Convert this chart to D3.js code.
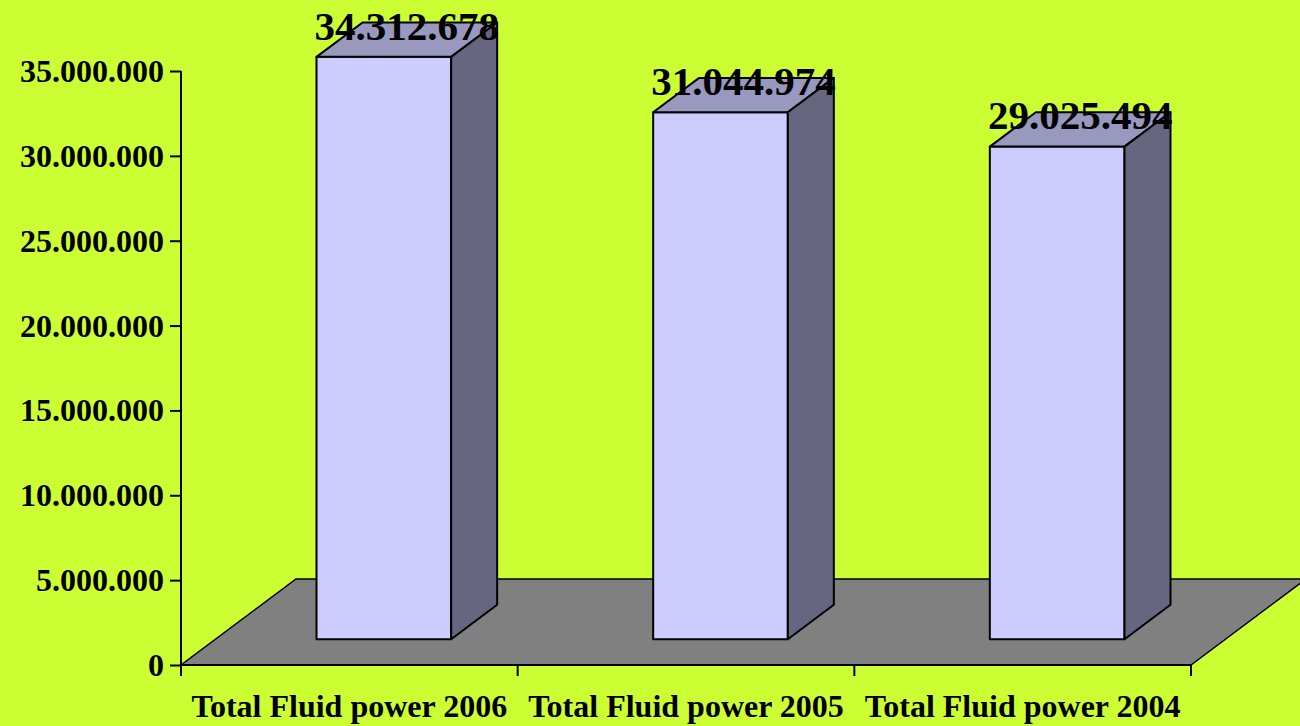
<!DOCTYPE html>
<html>
<head>
<meta charset="utf-8">
<script src="https://cdn.jsdelivr.net/npm/d3@7"></script>
<style>
  html, body { margin: 0; padding: 0; background: #CCFF33; }
  svg { display: block; }
  text { font-family: "Liberation Serif", "Times New Roman", serif; font-weight: bold; fill: #000; }
</style>
</head>
<body>
<div id="chart"></div>
<script>
// chart data
const categories = ["Total Fluid power 2006", "Total Fluid power 2005", "Total Fluid power 2004"];
const values = [34312678, 31044974, 29025494];
const yTicks = [0, 5000000, 10000000, 15000000, 20000000, 25000000, 30000000, 35000000];

const width = 1300, height = 726;

const svg = d3.select("#chart").append("svg")
    .attr("width", width)
    .attr("height", height);

// front plane scales
const x = d3.scaleBand().domain(categories).range([181, 1191]);
const y = d3.scaleLinear().domain([0, 35000000]).range([665, 71]);

// depth of the floor (3d offset)
const depthX = 115, depthY = -86;
const barFront = 0.3, barBack = 0.7;

const fmt = d3.formatLocale({ decimal: ",", thousands: ".", grouping: [3], currency: ["", ""] }).format(",");

// floor
const x0 = x.range()[0], x1 = x.range()[1], y0 = y(0);
svg.append("polygon")
    .attr("points", [
        [x0, y0], [x1, y0], [x1 + depthX, y0 + depthY], [x0 + depthX, y0 + depthY]
    ].map(p => p.join(",")).join(" "))
    .attr("fill", "#808080")
    .attr("stroke", "#000")
    .attr("stroke-width", 1.5);

// bars
const bw = x.bandwidth() * 0.4;
const bars = svg.selectAll(".bar")
    .data(categories.map((c, i) => ({ name: c, value: values[i] })))
    .enter().append("g")
    .attr("class", "bar");

function pts(arr) { return arr.map(p => p.join(",")).join(" "); }

bars.each(function(d) {
    const g = d3.select(this);
    const fx = x(d.name) + (x.bandwidth() - bw) / 2 + depthX * barFront;
    const fyBase = y(0) + depthY * barFront;
    const fyTop = y(d.value) + depthY * barFront;
    const ox = depthX * (barBack - barFront), oy = depthY * (barBack - barFront);

    // front
    g.append("polygon")
        .attr("points", pts([[fx, fyTop], [fx + bw, fyTop], [fx + bw, fyBase], [fx, fyBase]]))
        .attr("fill", "#CCCCFF").attr("stroke", "#000").attr("stroke-width", 2)
        .attr("stroke-linejoin", "round");
    // top
    g.append("polygon")
        .attr("points", pts([[fx, fyTop], [fx + ox, fyTop + oy], [fx + bw + ox, fyTop + oy], [fx + bw, fyTop]]))
        .attr("fill", "#9999BF").attr("stroke", "#000").attr("stroke-width", 2)
        .attr("stroke-linejoin", "round");
    // side
    g.append("polygon")
        .attr("points", pts([[fx + bw, fyTop], [fx + bw + ox, fyTop + oy], [fx + bw + ox, fyBase + oy], [fx + bw, fyBase]]))
        .attr("fill", "#666680").attr("stroke", "#000").attr("stroke-width", 2)
        .attr("stroke-linejoin", "round");

    // value label
    g.append("text")
        .attr("x", fx + bw / 2 + ox / 2)
        .attr("y", fyTop + oy / 2)
        .attr("text-anchor", "middle")
        .style("font-size", "41px")
        .text(fmt(d.value));
});

// y axis
const yAxis = d3.axisLeft(y)
    .tickValues(yTicks)
    .tickSize(11)
    .tickPadding(6)
    .tickFormat(fmt);

const gy = svg.append("g")
    .attr("transform", `translate(${x0},0)`)
    .call(yAxis);
gy.select(".domain").attr("stroke", "#000").attr("stroke-width", 2).attr("d", `M0,${y(35000000)}V${y(0)}`);
gy.selectAll(".tick line").attr("stroke", "#000").attr("stroke-width", 2);
gy.selectAll(".tick text")
    .style("font-family", "'Liberation Serif', 'Times New Roman', serif")
    .style("font-weight", "bold")
    .style("font-size", "32px")
    .attr("fill", "#000")
    .attr("dy", "0.33em");

// x axis
const xAxis = d3.axisBottom(x).tickSize(0).tickPadding(0);
const gx = svg.append("g")
    .attr("transform", `translate(0,${y0})`)
    .call(xAxis);
gx.select(".domain").attr("stroke", "#000").attr("stroke-width", 2).attr("d", `M${x0},0H${x1}`);
gx.selectAll(".tick text")
    .style("font-family", "'Liberation Serif', 'Times New Roman', serif")
    .style("font-weight", "bold")
    .style("font-size", "32px")
    .attr("fill", "#000")
    .attr("y", 52)
    .attr("dy", 0);

// category separators
gx.selectAll(".sep")
    .data(categories.map(c => x(c)).concat([x1]))
    .enter().append("line")
    .attr("class", "sep")
    .attr("x1", d => d).attr("x2", d => d)
    .attr("y1", 0).attr("y2", 11)
    .attr("stroke", "#000").attr("stroke-width", 2);
</script>
</body>
</html>
